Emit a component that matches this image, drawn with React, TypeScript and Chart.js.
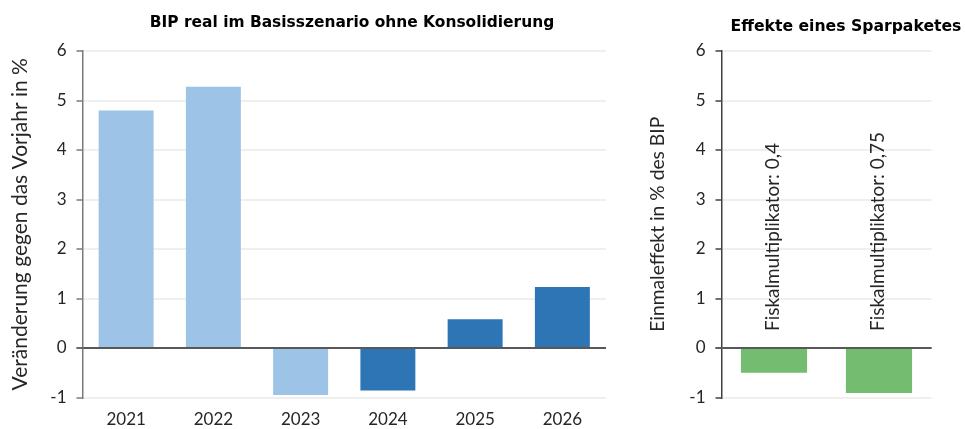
import React, { useEffect, useRef } from 'react';
import { Chart, registerables } from 'chart.js';

Chart.register(...registerables);

// ---- data ----
const years = ['2021', '2022', '2023', '2024', '2025', '2026'];
const gdpLight = [4.8, 5.28, -0.95, null, null, null];
const gdpDark = [null, null, null, -0.86, 0.58, 1.23];
const packageLabels = ['Fiskalmultiplikator: 0,4', 'Fiskalmultiplikator: 0,75'];
const packageEffect = [-0.5, -0.91];
const yTicks = { min: -1, max: 6, step: 1 };
const leftTitle = 'BIP real im Basisszenario ohne Konsolidierung';
const rightTitle = 'Effekte eines Sparpaketes';
const leftYTitle = 'Veränderung gegen das Vorjahr in %';
const rightYTitle = 'Einmaleffekt in % des BIP';

// ---- styles ----
const FONT = "Lato, 'DejaVu Sans', sans-serif";
const TITLE_FONT = "'DejaVu Sans', Lato, sans-serif";
const LIGHT_BLUE = '#9DC3E6';
const DARK_BLUE = '#2E75B6';
const GREEN = '#74BC6F';
const TEXT = '#262626';
const AXIS = '#7a7a7a';
const AXIS_RIGHT = '#404040';
const GRID = '#efefef';
const ZERO = '#595959';

// font size that makes a text span a given width (clamped)
function fitSize(text: string, weight: string, family: string, width: number, lo: number, hi: number) {
  const c = document.createElement('canvas').getContext('2d')!;
  c.font = `${weight} 100px ${family}`;
  const w = c.measureText(text).width;
  const s = (100 * width) / w;
  return Math.max(lo, Math.min(hi, s));
}

function titlePlugin(text: string, x: number, baseline: number, size: number) {
  return {
    id: 'customTitle',
    afterDraw(chart: any) {
      const ctx = chart.ctx;
      ctx.save();
      ctx.font = `bold ${size}px ${TITLE_FONT}`;
      ctx.fillStyle = '#000';
      ctx.textAlign = 'center';
      ctx.textBaseline = 'alphabetic';
      ctx.fillText(text, x, baseline);
      ctx.restore();
    },
  };
}

const zeroLinePlugin = {
  id: 'zeroLine',
  afterDatasetsDraw(chart: any) {
    const { ctx, chartArea, scales } = chart;
    const y = scales.y.getPixelForValue(0);
    ctx.save();
    ctx.strokeStyle = ZERO;
    ctx.lineWidth = 1.5;
    ctx.beginPath();
    ctx.moveTo(chartArea.left - 6, y);
    ctx.lineTo(chartArea.right, y);
    ctx.stroke();
    ctx.restore();
  },
};

function rotatedLabelPlugin(size: number) {
  return {
    id: 'rotatedLabels',
    afterDatasetsDraw(chart: any) {
      const { ctx, scales } = chart;
      const meta = chart.getDatasetMeta(0);
      const y0 = scales.y.getPixelForValue(0);
      ctx.save();
      ctx.font = `${size}px ${FONT}`;
      ctx.fillStyle = TEXT;
      ctx.textAlign = 'left';
      ctx.textBaseline = 'middle';
      meta.data.forEach((bar: any, i: number) => {
        ctx.save();
        ctx.translate(bar.x - 1, y0 - 17);
        ctx.rotate(-Math.PI / 2);
        ctx.fillText(String(chart.data.labels[i]), 0, 0);
        ctx.restore();
      });
      ctx.restore();
    },
  };
}

function yScale(title: string, titleSize: number, titlePad: number, width: number, axisColor: string) {
  return {
    min: yTicks.min,
    max: yTicks.max,
    ticks: {
      stepSize: yTicks.step,
      font: { family: FONT, size: 17 },
      color: TEXT,
      padding: 10,
    },
    grid: {
      color: (c: any) => (c.tick && c.tick.value === 0 ? ZERO : GRID),
      lineWidth: 2,
      tickColor: axisColor,
      tickLength: 6,
      tickWidth: 1.5,
    },
    border: { color: axisColor, width: 1.5 },
    title: {
      display: true,
      text: title,
      font: { family: FONT, size: titleSize },
      color: TEXT,
      padding: { top: titlePad, bottom: 0 },
    },
    afterFit: (s: any) => {
      s.width = width;
    },
  };
}

export default function App() {
  const leftRef = useRef<HTMLCanvasElement>(null);
  const rightRef = useRef<HTMLCanvasElement>(null);

  useEffect(() => {
    const leftTitleSize = fitSize(leftTitle, 'bold', TITLE_FONT, 405, 13, 18);
    const rightTitleSize = fitSize(rightTitle, 'bold', TITLE_FONT, 231, 13, 18);
    const leftYSize = fitSize(leftYTitle, 'normal', FONT, 333, 15, 21);
    const rightYSize = fitSize(rightYTitle, 'normal', FONT, 215, 15, 21);
    const labelSize = fitSize(packageLabels[0], 'normal', FONT, 188, 14, 20);
    const leftPad = 20 - (leftYSize * 1.2) / 2;
    const rightPad = 33 - (rightYSize * 1.2) / 2;

    const left = new Chart(leftRef.current!, {
      type: 'bar',
      data: {
        labels: years,
        datasets: [
          { data: gdpLight, backgroundColor: LIGHT_BLUE, grouped: false, categoryPercentage: 1, barPercentage: 0.63 } as any,
          { data: gdpDark, backgroundColor: DARK_BLUE, grouped: false, categoryPercentage: 1, barPercentage: 0.63 } as any,
        ],
      },
      options: {
        responsive: false,
        animation: false,
        layout: { padding: { top: 51, right: 19, bottom: 0, left: 0 } },
        plugins: { legend: { display: false }, tooltip: { enabled: false }, title: { display: false } },
        scales: {
          x: {
            grid: { display: false, drawTicks: false },
            border: { display: false },
            ticks: { font: { family: FONT, size: 17 }, color: TEXT, padding: 12 },
            afterFit: (s: any) => {
              s.height = 31.5;
            },
          },
          y: yScale(leftYTitle, leftYSize, leftPad, 82.5, AXIS) as any,
        },
      },
      plugins: [zeroLinePlugin, titlePlugin(leftTitle, 352, 26.5, leftTitleSize)],
    });

    const right = new Chart(rightRef.current!, {
      type: 'bar',
      data: {
        labels: packageLabels,
        datasets: [
          { data: packageEffect, backgroundColor: GREEN, categoryPercentage: 1, barPercentage: 0.63 } as any,
        ],
      },
      options: {
        responsive: false,
        animation: false,
        layout: { padding: { top: 51, right: 33.5, bottom: 0, left: 0 } },
        plugins: { legend: { display: false }, tooltip: { enabled: false }, title: { display: false } },
        scales: {
          x: {
            grid: { display: false, drawTicks: false },
            border: { display: false },
            ticks: { display: false },
            afterFit: (s: any) => {
              s.height = 31.5;
            },
          },
          y: yScale(rightYTitle, rightYSize, rightPad, 96.5, AXIS_RIGHT) as any,
        },
      },
      plugins: [zeroLinePlugin, rotatedLabelPlugin(labelSize), titlePlugin(rightTitle, 221, 30.5, rightTitleSize)],
    });

    return () => {
      left.destroy();
      right.destroy();
    };
  }, []);

  return (
    <div style={{ position: 'fixed', left: 0, top: 0, width: 965, height: 429, background: '#fff' }}>
      <canvas ref={leftRef} width={625} height={429} style={{ position: 'absolute', left: 0, top: 0, width: 625, height: 429 }} />
      <canvas ref={rightRef} width={340} height={429} style={{ position: 'absolute', left: 625, top: 0, width: 340, height: 429 }} />
    </div>
  );
}
